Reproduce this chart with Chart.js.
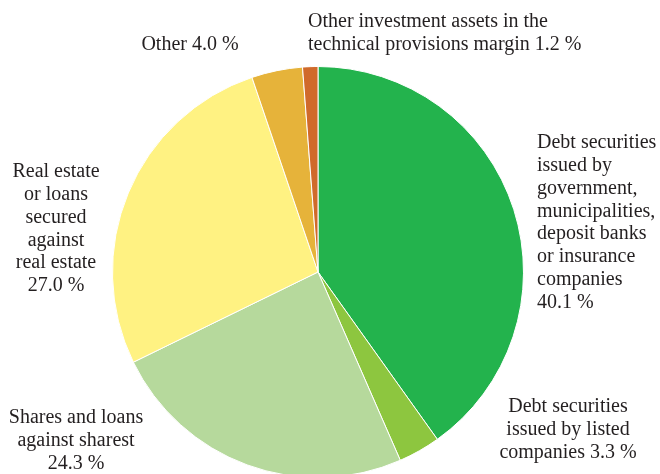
<!DOCTYPE html>
<html>
<head>
<meta charset="utf-8">
<script src="https://cdn.jsdelivr.net/npm/chart.js@4/dist/chart.umd.min.js"></script>
<style>
  html, body { margin: 0; padding: 0; background: #fff; }
  #wrap { width: 660px; height: 474px; overflow: hidden; position: relative; }
  #wrap canvas { display: block; }
</style>
</head>
<body>
<div id="wrap"><canvas id="pie" width="660" height="484"></canvas></div>
<script>
// Portfolio breakdown, clockwise from 12 o'clock
const categories = [
  'Debt securities issued by government, municipalities, deposit banks or insurance companies',
  'Debt securities issued by listed companies',
  'Shares and loans against sharest',
  'Real estate or loans secured against real estate',
  'Other',
  'Other investment assets in the technical provisions margin'
];
const shares = [40.1, 3.3, 24.3, 27.0, 4.0, 1.2];
const sliceColors = ['#23b34d', '#8dc63f', '#b6d99c', '#fff282', '#e6b33a', '#d06a2b'];

// How each label is wrapped on the page (last line gets the value appended)
const labelLines = [
  ['Debt securities', 'issued by', 'government,', 'municipalities,', 'deposit banks', 'or insurance', 'companies', ''],
  ['Debt securities', 'issued by listed', 'companies'],
  ['Shares and loans', 'against sharest', ''],
  ['Real estate', 'or loans', 'secured', 'against', 'real estate', ''],
  ['Other'],
  ['Other investment assets in the', 'technical provisions margin']
];

const FONT = '20px "Liberation Serif", "DejaVu Serif", serif';
const LINE = 22.8;

// anchor x, first line y, alignment
const labelBoxes = [
  { x: 537, y: 143, align: 'left' },
  { x: 568, y: 407, align: 'center' },
  { x: 76,  y: 418, align: 'center' },
  { x: 56,  y: 172, align: 'center' },
  { x: 190, y: 45,  align: 'center' },
  { x: 308, y: 22,  align: 'left' }
];

const pieLabels = {
  id: 'pieLabels',
  afterDraw(chart) {
    const ctx = chart.ctx;
    ctx.save();
    ctx.font = FONT;
    ctx.fillStyle = '#231f20';
    ctx.textBaseline = 'middle';
    labelLines.forEach((lines, i) => {
      const box = labelBoxes[i];
      const value = shares[i].toFixed(1) + ' %';
      ctx.textAlign = box.align;
      lines.forEach((line, j) => {
        let txt = line;
        if (j === lines.length - 1) txt = line ? line + ' ' + value : value;
        ctx.fillText(txt, box.x, box.y + j * LINE);
      });
    });
    ctx.restore();
  }
};

new Chart(document.getElementById('pie').getContext('2d'), {
  type: 'pie',
  data: {
    labels: categories,
    datasets: [{
      data: shares,
      backgroundColor: sliceColors,
      borderColor: '#ffffff',
      borderWidth: 1
    }]
  },
  options: {
    responsive: false,
    animation: false,
    layout: { padding: { top: 66, bottom: 6, left: 112, right: 136 } },
    plugins: {
      legend: { display: false },
      tooltip: { enabled: false }
    }
  },
  plugins: [pieLabels]
});
</script>
</body>
</html>
